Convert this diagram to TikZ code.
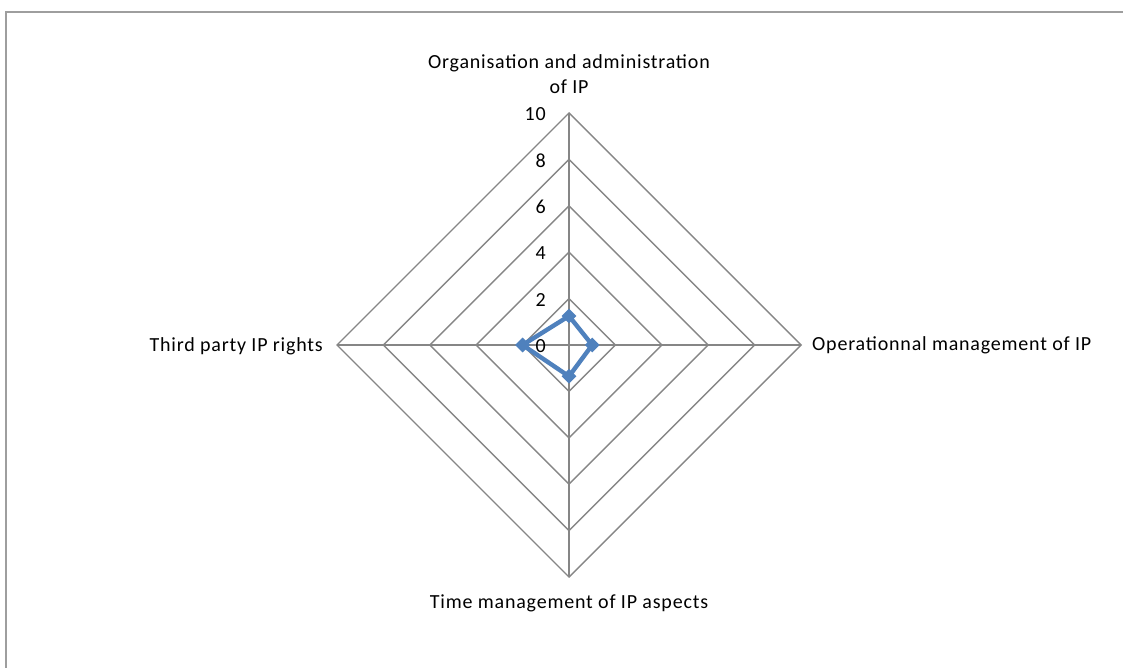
\documentclass[tikz,border=0pt]{standalone}
\usepackage{fontspec}
\setmainfont{Carlito}
\newfontfamily\xlfont[LetterSpace=4]{Carlito}
\usetikzlibrary{shapes.geometric,calc}
\definecolor{gridgray}{HTML}{868686}
\definecolor{serblue}{HTML}{4F81BD}
\begin{document}
\begin{tikzpicture}[x=1pt,y=-1pt,
  gridline/.style={draw=gridgray,line width=1.4pt},
  frameline/.style={draw=gridgray!80,line width=2pt},
  axlabel/.style={font=\xlfont\fontsize{20}{25}\selectfont,inner sep=0pt,text=black},
  ticklabel/.style={font=\xlfont\fontsize{20}{22}\selectfont,inner sep=0pt,anchor=east},
  marker/.style={diamond,fill=serblue,inner sep=0pt,minimum size=15pt},
  series/.style={draw=serblue,line width=4.4pt,line join=round}]
\useasboundingbox (0,0) rectangle (1123,668);
\fill[white] (0,0) rectangle (1123,668);
% frame (only left and top edges visible)
\coordinate (fbl) at (6,668);
\coordinate (ftl) at (6,12.5);
\coordinate (ftr) at (1123,12.5);
\draw[frameline] (fbl) -- (ftl) -- (ftr);
% centre and axes
\coordinate (c) at (569,345);
\def\R{23.2}
\foreach \k in {2,4,6,8,10}{
  \draw[gridline] ($(c)+(0,-\k*\R)$) -- ($(c)+(\k*\R,0)$) -- ($(c)+(0,\k*\R)$) -- ($(c)+(-\k*\R,0)$) -- cycle;
}
\coordinate (at) at ($(c)+(0,-10*\R)$);
\coordinate (ar) at ($(c)+(10*\R,0)$);
\coordinate (ab) at ($(c)+(0,10*\R)$);
\coordinate (al) at ($(c)+(-10*\R,0)$);
\draw[gridline] (c) -- (at);
\draw[gridline] (c) -- (ar);
\draw[gridline] (c) -- (ab);
\draw[gridline] (c) -- (al);
% tick labels
\foreach \k in {0,2,4,6,8,10}{
  \node[ticklabel] (t\k) at ($(c)+(-23,-\k*\R+1)$) {\k};
}
% axis labels
\node[axlabel,align=center] (lt) at (569,74) {Organisation and administration\\of IP};
\node[axlabel,anchor=west] (lr) at (812,345) {Operationnal management  of IP};
\node[axlabel,anchor=east] (ll) at (323,346) {Third party IP rights};
\node[axlabel] (lb) at (569,603) {Time management  of IP aspects};
% series
\coordinate (vt) at ($(c)+(0,-1.25*\R)$);
\coordinate (vr) at ($(c)+(1.0*\R,0)$);
\coordinate (vb) at ($(c)+(0,1.35*\R)$);
\coordinate (vl) at ($(c)+(-2.0*\R,0)$);
\draw[series] (vt) -- (vr) -- (vb) -- (vl) -- cycle;
\node[marker] (pt) at (vt) {};
\node[marker] (pr) at (vr) {};
\node[marker] (pb) at (vb) {};
\node[marker] (pl) at (vl) {};
\end{tikzpicture}
\end{document}
